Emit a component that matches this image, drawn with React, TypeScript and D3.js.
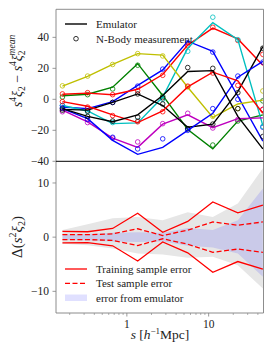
import React from 'react';
import * as d3 from 'd3';

// ─── data ────────────────────────────────────────────────────────────────────

const sValues = [0.163, 0.331, 0.67, 1.356, 2.744, 5.55, 11.24, 22.75, 46.0];

// top panel: emulator (line) and N-body measurement (circles) per model
const emuBlackA = [-6.5, -7, -2, 3.5, -4, -18, -16, 5, 34];
const nbodyBlackA = [-6, -7.5, -2, 3.5, -3, -19, -16, 4.3, 33];
const emuBlackB = [-6, -11, -14.5, -10, 2.5, 18, 18.5, -11, -32];
const nbodyBlackB = [-7, -11, -14, -11.5, 1, 20.5, 20, -6, -24];
const emuRedA = [3.3, 4, 3, 6.5, 16, 35, 46, 39, 22];
const nbodyRedA = [3.5, 4.3, 3, 5.5, 15.5, 34.5, 46.5, 38, 29];
const emuRedB = [-1.5, -4.5, -10, -15, -7.5, 8, 17.5, 12, -9];
const nbodyRedB = [-1.5, -5, -10.5, -14.5, -8, 8.5, 17, 9, -6.5];
const emuBlueA = [-5, -6, -1.5, 9, 19, 37.5, 31, 2, -27];
const nbodyBlueA = [-4, -6, -2, 8.5, 19.5, 36.5, 30.5, 0, -18];
const emuBlueB = [-6, -12.5, -26.5, -35.5, -31, -20, -9, 14.3, 24.5];
const nbodyBlueB = [-5.5, -13, -24.5, -32, -25.5, -20, -6, 15, 24];
const emuCyan = [-4, -7.5, -15.7, -15.2, 1.5, 33, 49.5, 38.5, -17];
const nbodyCyan = [-4, -8, -15, -14, 0, 31, 53, 38.5, -17.5];
const emuMagenta = [-7, -14.5, -25, -31, -16, -10, -18.3, -12.5, -12];
const nbodyMagenta = [-8, -15, -25, -27.5, -15.7, -9, -18.5, -13, -6.5];
const emuYellow = [8.5, 14.8, 22.5, 29.5, 28.5, 7.8, -11.7, -3, -0.5];
const nbodyYellow = [8.7, 15, 22.5, 29.5, 28, 8, -11, -6, 5.4];
const emuGreen = [2.3, 3.3, 7.8, 23, 2.5, -19.5, -32, -14, -10];
const nbodyGreen = [1.5, 3, 6.7, 22, 2, -19, -29.5, -14, -1];

// bottom panel
const trainErr = [1.05, 1.0, 1.6, 4.4, 0.9, 2.9, 6.5, 4.5, 5.9];
const testErr = [0.45, 0.45, 0.6, 1.55, 0.3, 1.3, 2.8, 2.2, 2.8];
const grayUpper = [1.3, 2.4, 3.5, 3.7, 3.1, 4.6, 3.7, 6.2, 12.7];
const grayLower = [-1.2, -1.5, -2.1, -3.0, -3.2, -3.8, -3.6, -5.2, -9.5];
const blueUpper = [0.5, 0.6, 0.8, 0.9, 0.8, 1.7, 1.3, 3.1, 9.0];
const blueLower = [-0.5, -0.6, -0.8, -0.9, -0.8, -1.6, -1.9, -3.0, -7.3];

const topTicks = [40, 20, 0, -20, -40];
const bottomTicks = [10, 0, -10];
const xMajor = [1, 10];
const xMinor = [0.2, 0.3, 0.4, 0.5, 0.6, 0.7, 0.8, 0.9, 2, 3, 4, 5, 6, 7, 8, 9, 20, 30, 40];

const series = [
  { color: '#0000ff', emu: emuBlueA, nbody: nbodyBlueA },
  { color: '#008000', emu: emuGreen, nbody: nbodyGreen },
  { color: '#ff0000', emu: emuRedA, nbody: nbodyRedA },
  { color: '#00bfbf', emu: emuCyan, nbody: nbodyCyan },
  { color: '#bf00bf', emu: emuMagenta, nbody: nbodyMagenta },
  { color: '#bfbf00', emu: emuYellow, nbody: nbodyYellow },
  { color: '#000000', emu: emuBlackA, nbody: nbodyBlackA },
  { color: '#0000ff', emu: emuBlueB, nbody: nbodyBlueB },
  { color: '#ff0000', emu: emuRedB, nbody: nbodyRedB },
  { color: '#000000', emu: emuBlackB, nbody: nbodyBlackB },
];

// ─── layout ──────────────────────────────────────────────────────────────────

const W = 274;
const H = 356;
const L = 56;
const R = 263.5;
const TOP = 9.3;
const MID = 161.3;
const BOT = 313;
const FONT = '"Liberation Serif", "DejaVu Serif", serif';
const SPINE = '#808080';

const x = d3.scaleLog().domain([0.136, 46.85]).range([L, R]);
const yTop = d3.scaleLinear().domain([-40, 58.1]).range([MID, TOP]);
const yBot = d3.scaleLinear().domain([-14, 14]).range([BOT, MID]);

export default function App() {
  const lineTop = d3.line<number>().x((_, i) => x(sValues[i])).y(d => yTop(d));
  const lineBot = d3.line<number>().x((_, i) => x(sValues[i])).y(d => yBot(d));
  const neg = (a: number[]) => a.map(v => -v);
  const band = (lo: number[], hi: number[]) =>
    d3.area<number>().x((_, i) => x(sValues[i])).y0((_, i) => yBot(lo[i])).y1(d => yBot(d))(hi) ?? undefined;

  return (
    <svg width={W} height={H} style={{ position: 'absolute', left: 0, top: 0 }} fontFamily={FONT}>
      <defs>
        <clipPath id="clipTop"><rect x={L} y={TOP} width={R - L} height={MID - TOP} /></clipPath>
        <clipPath id="clipBot"><rect x={L} y={MID} width={R - L} height={BOT - MID} /></clipPath>
      </defs>
      <rect width={W} height={H} fill="#fff" />

      {/* top panel */}
      <g clipPath="url(#clipTop)">
        {series.map((s, k) => (
          <g key={k}>
            <path d={lineTop(s.emu) ?? undefined} fill="none" stroke={s.color} strokeWidth={1.4} />
            {s.nbody.map((v, i) => (
              <circle key={i} cx={x(sValues[i])} cy={yTop(v)} r={2.3} fill="none" stroke={s.color} strokeWidth={0.8} />
            ))}
          </g>
        ))}
      </g>
      <line x1={L} x2={L} y1={TOP} y2={MID} stroke={SPINE} strokeWidth={0.9} />
      <line x1={L} x2={R} y1={TOP} y2={TOP} stroke={SPINE} strokeWidth={0.9} />
      <line x1={R} x2={R} y1={TOP} y2={MID} stroke={SPINE} strokeWidth={0.9} />
      {topTicks.map(t => (
        <g key={t}>
          <line x1={L - 3.5} x2={L} y1={yTop(t)} y2={yTop(t)} stroke={SPINE} strokeWidth={0.8} />
          <text x={L - 7} y={yTop(t)} dy="0.35em" textAnchor="end" fontSize={11.5} fill="#222">
            {t < 0 ? `−${-t}` : t}
          </text>
        </g>
      ))}
      {/* top legend */}
      <line x1={65} x2={87} y1={24} y2={24} stroke="#000" strokeWidth={1.4} />
      <text x={96} y={24} dy="0.35em" fontSize={11} fill="#222">Emulator</text>
      <circle cx={76} cy={38.7} r={2.3} fill="none" stroke="#000" strokeWidth={0.8} />
      <text x={96} y={38.7} dy="0.35em" fontSize={11} fill="#222">N-Body measurement</text>

      {/* top y label */}
      <text transform={`translate(22,71) rotate(-90)`} textAnchor="middle" fontSize={14} fill="#222">
        <tspan fontStyle="italic">s</tspan>
        <tspan fontSize={9.5} dy={-6}>4</tspan>
        <tspan fontStyle="italic" dy={6}>ξ</tspan>
        <tspan fontSize={9.5} dy={3}>2</tspan>
        <tspan dy={-3}> − </tspan>
        <tspan fontStyle="italic">s</tspan>
        <tspan fontSize={9.5} dy={-6}>4</tspan>
        <tspan fontStyle="italic" dy={6}>ξ</tspan>
        <tspan fontSize={9.5} dy={3}>2</tspan>
        <tspan fontSize={9.5} fontStyle="italic" dx={-5} dy={-10}>mean</tspan>
      </text>

      {/* bottom panel */}
      <g clipPath="url(#clipBot)">
        <path d={band(grayLower, grayUpper)} fill="#e6e6e6" />
        <path d={band(blueLower, blueUpper)} fill="#0000ff" fillOpacity={0.12} />
        <path d={lineBot(trainErr) ?? undefined} fill="none" stroke="#ff0000" strokeWidth={1.3} />
        <path d={lineBot(neg(trainErr)) ?? undefined} fill="none" stroke="#ff0000" strokeWidth={1.3} />
        <path d={lineBot(testErr) ?? undefined} fill="none" stroke="#ff0000" strokeWidth={1.3} strokeDasharray="5,2.5" />
        <path d={lineBot(neg(testErr)) ?? undefined} fill="none" stroke="#ff0000" strokeWidth={1.3} strokeDasharray="5,2.5" />
      </g>
      <line x1={L} x2={L} y1={MID} y2={BOT} stroke={SPINE} strokeWidth={0.9} />
      <line x1={L} x2={R} y1={BOT} y2={BOT} stroke={SPINE} strokeWidth={0.9} />
      <line x1={R} x2={R} y1={MID} y2={BOT} stroke={SPINE} strokeWidth={0.9} />
      <line x1={L} x2={R} y1={MID} y2={MID} stroke="#000" strokeWidth={1} />
      {bottomTicks.map(t => (
        <g key={t}>
          <line x1={L - 3.5} x2={L} y1={yBot(t)} y2={yBot(t)} stroke={SPINE} strokeWidth={0.8} />
          <text x={L - 7} y={yBot(t)} dy="0.35em" textAnchor="end" fontSize={11.5} fill="#222">
            {t < 0 ? `−${-t}` : t}
          </text>
        </g>
      ))}
      {xMinor.map(t => (
        <line key={t} x1={x(t)} x2={x(t)} y1={BOT} y2={BOT + 2} stroke={SPINE} strokeWidth={0.6} />
      ))}
      {xMajor.map(t => (
        <g key={t}>
          <line x1={x(t)} x2={x(t)} y1={BOT} y2={BOT + 3.5} stroke={SPINE} strokeWidth={0.8} />
          <text x={x(t)} y={BOT + 11} dy="0.35em" textAnchor="middle" fontSize={11.5} fill="#222">{t}</text>
        </g>
      ))}

      {/* bottom legend */}
      <line x1={65} x2={87} y1={269} y2={269} stroke="#ff0000" strokeWidth={1.3} />
      <text x={96} y={269} dy="0.35em" fontSize={11} fill="#222">Training sample error</text>
      <line x1={65} x2={87} y1={283.3} y2={283.3} stroke="#ff0000" strokeWidth={1.3} strokeDasharray="5,2.5" />
      <text x={96} y={283.3} dy="0.35em" fontSize={11} fill="#222">Test sample error</text>
      <rect x={65} y={294.5} width={22} height={6.5} fill="#0000ff" fillOpacity={0.12} />
      <text x={96} y={297.7} dy="0.35em" fontSize={11} fill="#222">error from emulator</text>

      {/* bottom y label */}
      <text transform={`translate(22,237) rotate(-90)`} textAnchor="middle" fontSize={15} fill="#222">
        <tspan>Δ(</tspan>
        <tspan fontStyle="italic">s</tspan>
        <tspan fontSize={10} dy={-6}>2</tspan>
        <tspan fontStyle="italic" dy={6}>ξ</tspan>
        <tspan fontSize={10} dy={3}>2</tspan>
        <tspan dy={-3}>)</tspan>
      </text>

      {/* x label */}
      <text x={160} y={334} dy="0.35em" textAnchor="middle" fontSize={13.5} fill="#222">
        <tspan fontStyle="italic">s</tspan>
        <tspan> [</tspan>
        <tspan fontStyle="italic">h</tspan>
        <tspan fontSize={9} dy={-5}>−1</tspan>
        <tspan dy={5}>Mpc]</tspan>
      </text>
    </svg>
  );
}
